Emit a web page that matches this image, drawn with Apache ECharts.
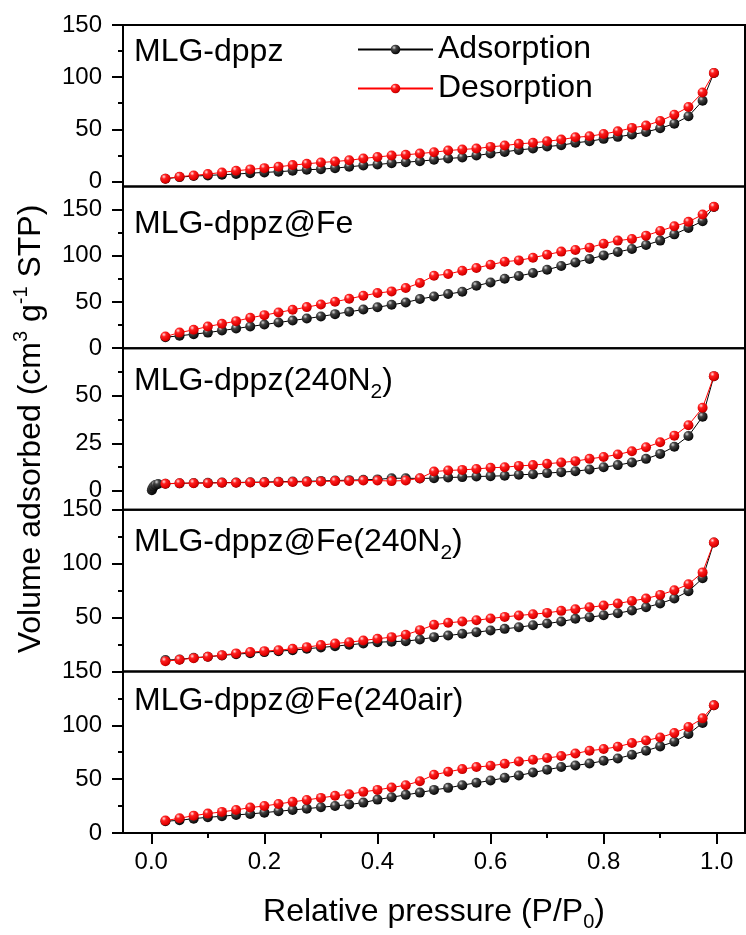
<!DOCTYPE html>
<html>
<head>
<meta charset="utf-8">
<script src="https://cdn.jsdelivr.net/npm/echarts@6/dist/echarts.min.js"></script>
<style>
  html, body { margin: 0; padding: 0; background: #fff; }
  #chart { width: 746px; height: 935px; }
</style>
</head>
<body>
<div id="chart"></div>
<script>
// relative pressure P/P0, shared by every panel
const pressure = [0.025, 0.05, 0.075, 0.1, 0.125, 0.15, 0.175, 0.2, 0.225, 0.25,
  0.275, 0.3, 0.325, 0.35, 0.375, 0.4, 0.425, 0.45, 0.475, 0.5,
  0.525, 0.55, 0.575, 0.6, 0.625, 0.65, 0.675, 0.7, 0.725, 0.75,
  0.775, 0.8, 0.825, 0.85, 0.875, 0.9, 0.925, 0.95, 0.975, 0.995];

// MLG-dppz
const ads1 = [2.5, 4.1, 5.1, 5.7, 6.4, 7.0, 7.9, 8.6, 9.3, 10.2, 11.2, 11.7, 12.7, 14.0, 15.3, 16.2, 17.5, 18.4, 19.4, 20.7,
  22.0, 22.9, 24.8, 26.7, 28.3, 30.2, 31.5, 33.4, 34.7, 37.0, 38.5, 40.8, 42.7, 44.9, 47.4, 50.9, 55.4, 62.4, 77.4, 104.0];
const des1 = [2.6, 4.5, 5.7, 7.0, 8.6, 10.2, 11.5, 12.7, 14.0, 15.6, 16.9, 18.1, 19.1, 20.2, 22.0, 23.4, 24.8, 25.5, 26.7, 28.0,
  29.6, 30.6, 31.5, 33.1, 34.4, 36.0, 37.0, 38.5, 40.1, 42.3, 43.3, 45.5, 48.0, 51.3, 53.5, 58.0, 64.0, 71.3, 85.3, 104.0];

// MLG-dppz@Fe
const ads2 = [11.9, 13.4, 15.2, 16.9, 19.1, 21.3, 23.5, 25.6, 27.8, 30.0, 32.1, 34.3, 36.9, 39.4, 41.9, 44.3, 47.0, 49.5, 53.2, 56.0,
  58.6, 61.1, 67.6, 71.2, 75.2, 78.2, 81.4, 85.0, 89.0, 92.9, 96.6, 100.5, 104.2, 107.5, 111.8, 116.5, 123.3, 130.3, 137.5, 153.0];
const des2 = [12.6, 16.9, 19.9, 23.5, 26.4, 29.3, 32.9, 35.8, 38.7, 41.6, 44.5, 47.3, 50.3, 53.5, 56.8, 59.7, 61.5, 65.1, 70.6, 78.5,
  80.3, 83.9, 86.9, 90.4, 93.7, 95.1, 98.0, 101.3, 104.6, 106.4, 108.9, 113.2, 116.5, 118.3, 121.9, 127.0, 132.0, 136.8, 144.7, 153.1];

// MLG-dppz(240N2) – extra low-pressure adsorption points
const lowP3 = [0.001, 0.002, 0.004, 0.007, 0.012];
const lowAds3 = [0.3, 1.2, 2.2, 3.0, 3.6];
const ads3 = [3.7, 3.9, 4.1, 4.2, 4.3, 4.4, 4.5, 4.6, 4.8, 4.9, 5.0, 5.2, 5.4, 5.6, 5.8, 6.0, 6.6, 6.6, 6.5, 6.6,
  7.0, 7.2, 7.5, 7.7, 7.9, 8.4, 8.7, 9.3, 9.8, 10.3, 11.2, 12.4, 13.5, 14.9, 16.8, 19.4, 23.2, 28.8, 39.0, 60.3];
const des3 = [3.7, 4.0, 4.0, 4.0, 4.2, 4.2, 4.4, 4.4, 4.6, 4.6, 4.7, 4.9, 5.1, 5.2, 5.4, 5.4, 5.1, 5.4, 6.6, 10.1,
  10.7, 11.0, 11.5, 12.1, 12.4, 13.1, 13.5, 14.2, 14.9, 15.6, 16.8, 17.8, 19.1, 20.8, 22.9, 25.5, 29.0, 34.5, 43.7, 60.3];

// MLG-dppz@Fe(240N2)
const ads4 = [10.5, 11.1, 12.7, 13.6, 14.8, 16.0, 16.9, 17.9, 18.8, 19.7, 21.0, 22.2, 23.4, 24.7, 25.9, 27.1, 27.6, 28.1, 29.6, 31.8,
  33.3, 34.9, 36.4, 38.0, 39.5, 41.0, 42.9, 44.4, 46.3, 48.8, 50.3, 52.1, 54.0, 56.5, 59.5, 63.0, 67.6, 74.4, 86.4, 119.7];
const des4 = [9.5, 10.8, 12.3, 13.6, 15.1, 16.7, 17.9, 18.8, 19.7, 21.0, 22.5, 24.4, 25.9, 27.1, 28.7, 30.3, 31.8, 34.0, 38.3, 43.2,
  45.1, 46.3, 47.5, 49.1, 50.6, 51.9, 53.1, 54.3, 56.2, 57.7, 59.5, 61.1, 63.0, 65.4, 67.6, 71.0, 75.3, 80.9, 91.9, 119.7];

// MLG-dppz@Fe(240air)
const ads5 = [10.9, 11.8, 13.3, 14.6, 15.5, 16.8, 17.7, 18.9, 20.2, 21.4, 22.6, 23.9, 25.1, 26.4, 28.2, 31.0, 33.2, 35.4, 37.5, 40.0,
  41.9, 44.4, 46.6, 48.7, 51.2, 53.4, 56.1, 58.7, 61.2, 62.7, 64.5, 67.0, 69.2, 72.6, 76.4, 80.4, 84.7, 91.9, 102.1, 118.5];
const des5 = [11.5, 13.7, 16.1, 18.0, 19.6, 21.4, 23.6, 25.1, 27.0, 28.9, 30.7, 32.6, 34.5, 36.0, 38.2, 40.0, 42.2, 44.4, 48.1, 54.0,
  56.8, 59.3, 61.2, 62.4, 64.2, 66.4, 68.0, 69.6, 71.4, 73.8, 76.4, 77.9, 80.1, 83.5, 85.9, 88.7, 92.8, 98.4, 106.4, 118.5];

const panelNames = ["MLG-dppz", "MLG-dppz@Fe", "MLG-dppz(240N{sub|2})", "MLG-dppz@Fe(240N{sub|2})", "MLG-dppz@Fe(240air)"];
const xTicks = [0, 0.2, 0.4, 0.6, 0.8, 1.0];
const xMinor = [0.1, 0.3, 0.5, 0.7, 0.9];
// y ranges and ticks of each panel
const yMin = [-5, 0, -10, 0, 0];
const yMax = [150, 175, 75, 150, 150];
const yLabels = [[0, 50, 100, 150], [0, 50, 100, 150], [0, 25, 50], [50, 100, 150], [0, 50, 100, 150]];
const yMajor = [[0, 50, 100, 150], [0, 50, 100, 150], [0, 25, 50], [0, 50, 100, 150], [0, 50, 100, 150]];
const yMinor = [[25, 75, 125], [25, 75, 125], [12.5, 37.5, 62.5], [25, 75, 125], [25, 75, 125]];

const adsData = [
  pressure.map((p, i) => [p, ads1[i]]),
  pressure.map((p, i) => [p, ads2[i]]),
  lowP3.map((p, i) => [p, lowAds3[i]]).concat(pressure.map((p, i) => [p, ads3[i]])),
  pressure.map((p, i) => [p, ads4[i]]),
  pressure.map((p, i) => [p, ads5[i]])
];
const desData = [des1, des2, des3, des4, des5].map(d => pressure.map((p, i) => [p, d[i]]));

let chart = echarts.init(document.getElementById("chart"));

const font = "'Liberation Sans', Arial, sans-serif";
const tops = [25, 186.6, 348.2, 509.8, 671.4];
const panelH = 161.6;
const titleTops = [30, 202, 359, 520, 679];

const blackBall = {
  type: "radial", x: 0.35, y: 0.3, r: 0.75,
  colorStops: [{ offset: 0, color: "#d8d8d8" }, { offset: 0.3, color: "#444" }, { offset: 1, color: "#000" }]
};
const redBall = {
  type: "radial", x: 0.35, y: 0.3, r: 0.75,
  colorStops: [{ offset: 0, color: "#ffe4e4" }, { offset: 0.3, color: "#ff2020" }, { offset: 0.8, color: "#e00000" }, { offset: 1, color: "#a00000" }]
};

let grids = [], xAxes = [], yAxes = [], yMinorAxes = [], series = [], titles = [];

tops.forEach((t, i) => {
  grids.push({ left: 123, width: 622, top: t, height: panelH, show: true, borderColor: "#000", borderWidth: 2 });

  let last = i === 4;
  xAxes.push({
    gridIndex: i, type: "value", min: -0.05, max: 1.05, position: "bottom",
    show: last,
    axisLine: { show: false, onZero: false },
    splitLine: { show: false },
    axisTick: { show: last, customValues: xTicks, length: 11, lineStyle: { color: "#000", width: 2 } },
    axisLabel: {
      show: last, customValues: xTicks, margin: 17,
      formatter: v => v.toFixed(1),
      color: "#000", fontSize: 24, fontFamily: font
    },
    name: last ? "Relative pressure (P/P{sub|0})" : "",
    nameLocation: "middle",
    nameGap: 59,
    nameTextStyle: {
      color: "#000", fontSize: 32, fontFamily: font, lineHeight: 40,
      rich: { sub: { fontSize: 20, fontFamily: font, color: "#000", lineHeight: 20, verticalAlign: "bottom" } }
    }
  });

  yAxes.push({
    gridIndex: i, type: "value", min: yMin[i], max: yMax[i], position: "left",
    axisLine: { show: false, onZero: false },
    splitLine: { show: false },
    axisTick: { customValues: yMajor[i], length: 11, lineStyle: { color: "#000", width: 2 } },
    axisLabel: { customValues: yLabels[i], margin: 21, color: "#000", fontSize: 24, fontFamily: font },
    name: i === 2 ? "Volume adsorbed (cm{sup|3} g{sup|-1} STP)" : "",
    nameLocation: "middle",
    nameRotate: 90,
    nameGap: 72,
    nameTextStyle: {
      color: "#000", fontSize: 32, fontFamily: font, lineHeight: 40,
      rich: { sup: { fontSize: 20, fontFamily: font, color: "#000", lineHeight: 20, verticalAlign: "top" } }
    }
  });

  yMinorAxes.push({
    gridIndex: i, type: "value", min: yMin[i], max: yMax[i], position: "left",
    axisLine: { show: false, onZero: false },
    splitLine: { show: false },
    axisLabel: { show: false },
    axisTick: { customValues: yMinor[i], length: 5, lineStyle: { color: "#000", width: 2 } }
  });

  titles.push({
    text: panelNames[i], left: 134, top: titleTops[i], padding: 0,
    textStyle: {
      color: "#000", fontSize: 32, fontWeight: "normal", fontFamily: font, lineHeight: 44,
      rich: { sub: { fontSize: 21, fontFamily: font, color: "#000", lineHeight: 20, verticalAlign: "bottom" } }
    }
  });

  series.push({
    name: "Adsorption", type: "line", xAxisIndex: i, yAxisIndex: i,
    data: adsData[i],
    symbol: "circle", symbolSize: 10,
    lineStyle: { color: "#000", width: 1 },
    itemStyle: { color: blackBall, borderWidth: 0 },
    z: 2
  });
  series.push({
    name: "Desorption", type: "line", xAxisIndex: i, yAxisIndex: i,
    data: desData[i],
    symbol: "circle", symbolSize: 10,
    lineStyle: { color: "#ff0000", width: 1 },
    itemStyle: { color: redBall, borderWidth: 0 },
    z: 3
  });
});

// minor ticks on the bottom axis
xAxes.push({
  gridIndex: 4, type: "value", min: -0.05, max: 1.05, position: "bottom",
  axisLine: { show: false, onZero: false },
  splitLine: { show: false },
  axisLabel: { show: false },
  axisTick: { customValues: xMinor, length: 5, lineStyle: { color: "#000", width: 2 } }
});

let option = {
  backgroundColor: "#fff",
  animation: false,
  title: titles,
  legend: {
    orient: "vertical", left: 357, top: 30, padding: 0, itemGap: 0,
    itemWidth: 75, itemHeight: 12, selectedMode: false,
    textStyle: { color: "#000", fontSize: 32, fontFamily: font, lineHeight: 39 },
    data: ["Adsorption", "Desorption"]
  },
  grid: grids,
  xAxis: xAxes,
  yAxis: yAxes.concat(yMinorAxes),
  series: series
};

chart.setOption(option, true);
</script>
</body>
</html>
